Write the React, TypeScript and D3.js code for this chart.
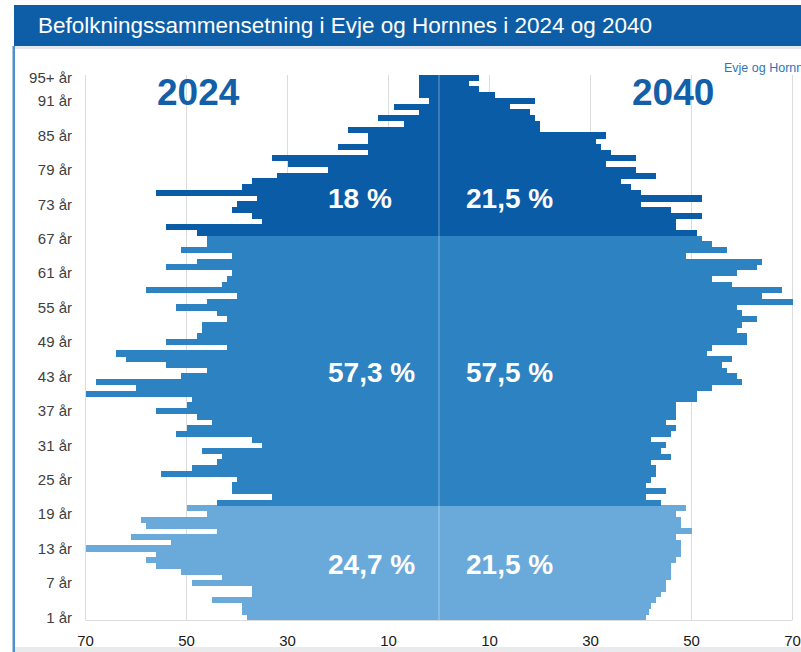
import React from "react";
import * as d3 from "d3";

// Categories: bottom row "1 år" up to top row "95+ år"
const categories: string[] = Array.from({ length: 95 }, (_, i) => (i === 94 ? "95+ år" : `${i + 1} år`));
const yTickLabels: string[] = [
  "1 år", "7 år", "13 år", "19 år", "25 år", "31 år", "37 år", "43 år", "49 år", "55 år",
  "61 år", "67 år", "73 år", "79 år", "85 år", "91 år", "95+ år",
];
const xTicks: number[] = [-70, -50, -30, -10, 10, 30, 50, 70];

// Persons per age, 2024 (bottom to top)
const pop2024: number[] = [
  38, 39, 39, 45, 37, 37, 49, 43, 51, 56,
  58, 56, 70, 53, 61, 44, 58, 59, 46, 50,
  44, 33, 41, 41, 40, 55, 49, 44, 43, 47,
  35, 37, 52, 50, 45, 48, 56, 50, 49, 70,
  60, 68, 51, 46, 54, 62, 64, 42, 54, 48,
  47, 47, 42, 44, 52, 46, 40, 58, 43, 42,
  41, 54, 48, 41, 51, 46, 46, 48, 54, 35,
  37, 41, 40, 36, 56, 39, 37, 32, 22, 30,
  33, 14, 20, 14, 14, 18, 7, 12, 4, 9,
  2, 4, 4, 4, 4,
];

// Persons per age, 2040 projection (bottom to top)
const pop2040: number[] = [
  41, 41.5, 42, 43, 44, 45, 45, 46, 46, 46,
  47, 48, 48, 48, 47, 50, 48, 48, 47, 49,
  44, 41, 45, 41, 42, 43, 43, 42, 46, 44,
  45, 42, 46, 47, 45, 47, 47, 47, 51, 51,
  54, 60, 59, 57, 56, 58, 53, 54, 61, 61,
  59, 60, 63, 60, 59, 70, 64, 68, 58, 54,
  59, 63, 64, 49, 57, 54, 52, 51, 47, 47,
  52, 46, 40, 52, 40, 38, 36, 43, 39, 33,
  39, 34, 32, 31, 33, 20, 20, 19, 18, 14,
  19, 11, 8, 6, 8,
];

// Age groups by row index (first row index of each group)
const groupStarts: number[] = [0, 20, 67];
const pctLabels2024: string[] = ["24,7 %", "57,3 %", "18 %"];
const pctLabels2040: string[] = ["21,5 %", "57,5 %", "21,5 %"];
const titleText = "Befolkningssammensetning i Evje og Hornnes i 2024 og 2040";
const sourceText = "Evje og Hornnes";
const yearLeft = "2024";
const yearRight = "2040";

const W = 801;
const H = 652;
const plotTop = 75;
const plotBottom = 620;
const plotLeft = 85.5;
const plotRight = 792.5;
const groupColors = ["#6aaadb", "#2d82c2", "#0b5ca7"];
const FONT = "'Liberation Sans', Arial, Helvetica, sans-serif";

function groupOf(i: number): number {
  let g = 0;
  groupStarts.forEach((s, k) => {
    if (i >= s) g = k;
  });
  return g;
}

export default function App() {
  const x = d3.scaleLinear().domain([-70, 70]).range([plotLeft, plotRight]);
  const y = d3.scaleBand<string>().domain(categories).range([plotBottom, plotTop]).padding(0);
  const bw = y.bandwidth();
  const pctY = [574, 382, 208];

  return (
    <svg
      width={W}
      height={H}
      viewBox={`0 0 ${W} ${H}`}
      style={{ position: "absolute", left: 0, top: 0, background: "#fff" }}
      fontFamily={FONT}
    >
      {/* header */}
      <rect x={14} y={5} width={W - 14} height={41} fill="#0d5ea6" />
      <rect x={14} y={46} width={W - 14} height={3} fill="#e4e8ee" />
      <text x={38} y={33} fill="#fff" fontSize={22.5}>
        {titleText}
      </text>
      {/* frame */}
      <rect x={12.5} y={46} width={2.5} height={H - 46} fill="#4f8fcc" />
      <rect x={15} y={647} width={W - 15} height={5} fill="#e9eaec" />

      {/* gridlines */}
      {xTicks.map((t) => (
        <line key={"g" + t} x1={x(t)} x2={x(t)} y1={plotTop} y2={plotBottom} stroke="#dcdcdc" strokeWidth={1} />
      ))}
      <line x1={plotLeft} x2={plotRight} y1={plotBottom + 0.5} y2={plotBottom + 0.5} stroke="#dcdcdc" strokeWidth={1} />

      {/* bars */}
      <g shapeRendering="crispEdges">
        {categories.map((c, i) => (
          <rect
            key={"l" + c}
            x={x(-pop2024[i])}
            y={y(c)!}
            width={x(0) - x(-pop2024[i])}
            height={bw + 0.4}
            fill={groupColors[groupOf(i)]}
          />
        ))}
        {categories.map((c, i) => (
          <rect
            key={"r" + c}
            x={x(0)}
            y={y(c)!}
            width={x(pop2040[i]) - x(0)}
            height={bw + 0.4}
            fill={groupColors[groupOf(i)]}
          />
        ))}
      </g>
      {/* center line */}
      <line x1={x(0)} x2={x(0)} y1={plotTop} y2={plotBottom} stroke="#ffffff" strokeOpacity={0.4} strokeWidth={1} />

      {/* y labels */}
      {yTickLabels.map((l) => (
        <text
          key={"y" + l}
          x={72}
          y={y(l)! + bw / 2}
          textAnchor="end"
          dominantBaseline="central"
          fontSize={15}
          fill="#404040"
        >
          {l}
        </text>
      ))}
      {/* x labels */}
      {xTicks.map((t) => (
        <text key={"x" + t} x={x(t)} y={646} textAnchor="middle" fontSize={15} fill="#1a1a1a">
          {Math.abs(t)}
        </text>
      ))}

      {/* year labels */}
      <text x={157} y={105} fontSize={37} fontWeight="bold" fill="#1360a8">
        {yearLeft}
      </text>
      <text x={632} y={105} fontSize={37} fontWeight="bold" fill="#1360a8">
        {yearRight}
      </text>
      <text x={724} y={72} fontSize={12.5} fill="#2e75b6">
        {sourceText}
      </text>

      {/* percent labels */}
      {pctLabels2024.map((p, k) => (
        <text key={"p1" + k} x={328} y={pctY[k]} fontSize={28} fontWeight="bold" fill="#fff">
          {p}
        </text>
      ))}
      {pctLabels2040.map((p, k) => (
        <text key={"p2" + k} x={466} y={pctY[k]} fontSize={28} fontWeight="bold" fill="#fff">
          {p}
        </text>
      ))}
    </svg>
  );
}
